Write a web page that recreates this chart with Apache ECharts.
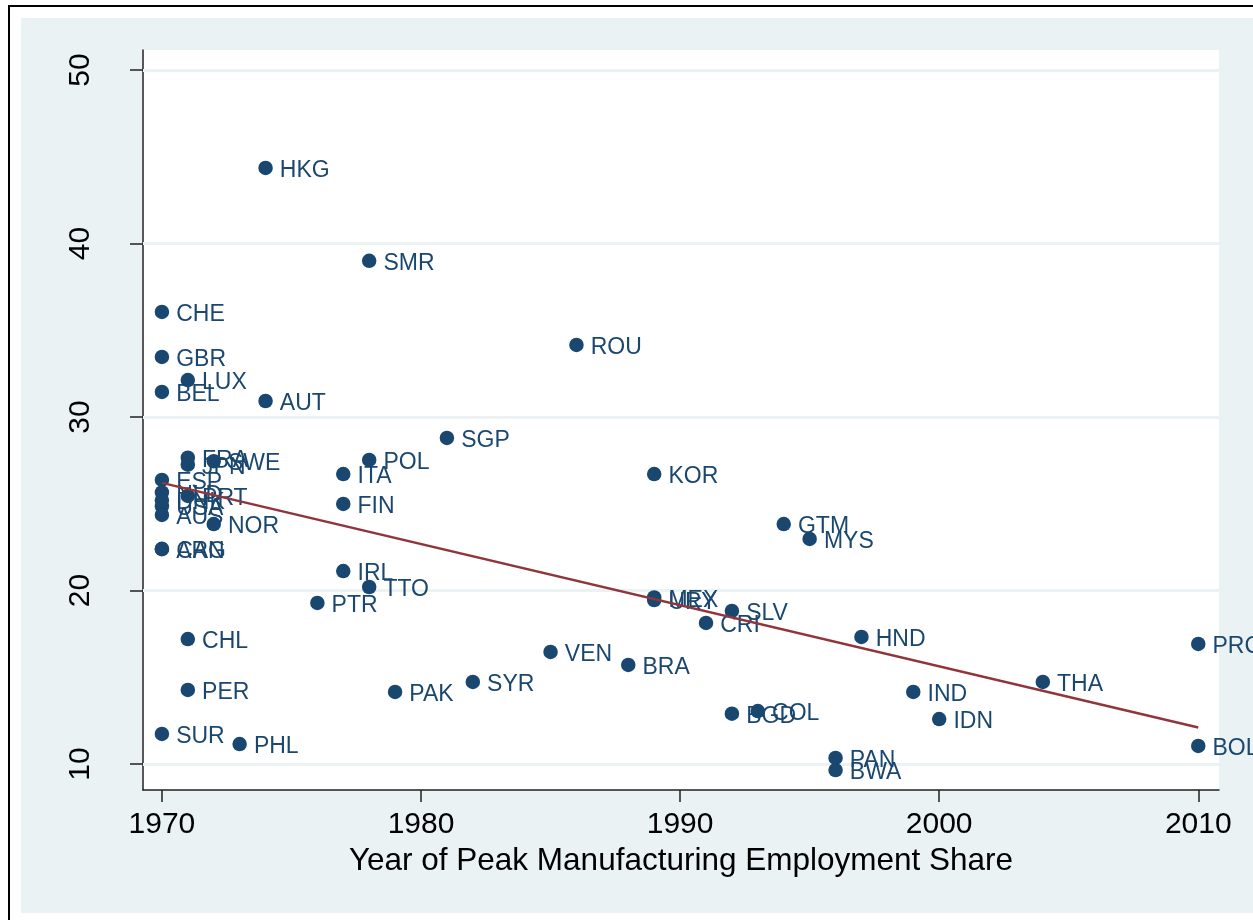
<!DOCTYPE html>
<html>
<head>
<meta charset="utf-8">
<script src="https://cdn.jsdelivr.net/npm/echarts@6/dist/echarts.min.js"></script>
<style>html,body{margin:0;padding:0;background:#fff;}#c{width:1253px;height:920px;}</style>
</head>
<body>
<div id="c"></div>
<script>
const countries = ['HKG','SMR','CHE','GBR','LUX','BEL','AUT','ROU','SGP','FRA','JPN','SWE','POL','ITA','KOR','ESP','NLD','PRT','DNK','USA','AUS','FIN','NOR','GTM','MYS','CAN','ARG','IRL','TTO','MEX','URY','PTR','SLV','CRI','HND','CHL','PRC','VEN','BRA','SYR','THA','PER','PAK','IND','COL','BGD','IDN','SUR','PHL','BOL','PAN','BWA'];
const peakYears = [1974,1978,1970,1970,1971,1970,1974,1986,1981,1971,1971,1972,1978,1977,1989,1970,1970,1971,1970,1970,1970,1977,1972,1994,1995,1970,1970,1977,1978,1989,1989,1976,1992,1991,1997,1971,2010,1985,1988,1982,2004,1971,1979,1999,1993,1992,2000,1970,1973,2010,1996,1996];
const peakShares = [44.35,39.0,36.05,33.46,32.13,31.44,30.92,34.15,28.79,27.65,27.25,27.45,27.52,26.71,26.71,26.37,25.65,25.45,25.2,24.85,24.35,24.99,23.83,23.83,22.97,22.4,22.38,21.12,20.2,19.6,19.45,19.28,18.82,18.13,17.32,17.2,16.92,16.46,15.71,14.73,14.73,14.27,14.15,14.15,13.05,12.9,12.59,11.73,11.15,11.04,10.35,9.65];
const fitYears = [1970, 2010];
const fitValues = [26.2, 12.1];
const xTicks = [1970, 1980, 1990, 2000, 2010];
const yTicks = [10, 20, 30, 40, 50];

const navy = '#1a476f';
const points = countries.map((c, i) => ({ name: c, value: [peakYears[i], peakShares[i]] }));
const fitLine = fitYears.map((x, i) => [x, fitValues[i]]);

const chart = echarts.init(document.getElementById('c'), null, { renderer: 'canvas' });
chart.setOption({
  animation: false,
  backgroundColor: '#ffffff',
  textStyle: { fontFamily: 'Liberation Sans, Arial, sans-serif' },
  graphic: [
    { type: 'rect', z: -20, shape: { x: 9, y: 6, width: 1300, height: 1000 }, style: { fill: '#ffffff', stroke: '#000000', lineWidth: 2 } },
    { type: 'rect', z: -19, shape: { x: 21, y: 18, width: 1300, height: 895 }, style: { fill: '#eaf2f3' } }
  ],
  grid: { left: 143, right: 34, top: 50, bottom: 130, show: true, backgroundColor: '#ffffff', borderWidth: 0, containLabel: false },
  xAxis: {
    type: 'value', min: 1969.27, max: 2010.8,
    name: 'Year of Peak Manufacturing Employment Share', nameLocation: 'middle', nameGap: 52,
    nameTextStyle: { fontSize: 31.5, color: '#000', fontFamily: 'Liberation Sans, Arial, sans-serif' },
    axisLine: { onZero: false, lineStyle: { color: '#222', width: 1.5 } },
    axisTick: { show: true, length: 12, lineStyle: { color: '#222', width: 1.5 }, customValues: xTicks },
    axisLabel: { fontSize: 30, color: '#000', margin: 20, customValues: xTicks, formatter: v => String(v) },
    splitLine: { show: false }
  },
  yAxis: {
    type: 'value', min: 8.5, max: 51.15,
    axisLine: { onZero: false, lineStyle: { color: '#222', width: 1.5 } },
    axisTick: { show: true, length: 13, lineStyle: { color: '#222', width: 1.5 }, customValues: yTicks },
    axisLabel: { fontSize: 30, color: '#000', margin: 47, rotate: 90, customValues: yTicks, formatter: v => String(v) },
    splitLine: { show: false }
  },
  series: [
    {
      type: 'scatter', data: [], z: 1, silent: true,
      markLine: {
        silent: true, symbol: 'none', animation: false, z: 1,
        label: { show: false },
        lineStyle: { color: '#eaf2f3', width: 3, type: 'solid' },
        data: yTicks.map(v => ({ yAxis: v }))
      }
    },
    {
      type: 'scatter', z: 3, data: points, symbol: 'circle', symbolSize: 14.5,
      itemStyle: { color: navy, opacity: 1 },
      label: { show: true, position: [21.5, 10], align: 'left', verticalAlign: 'middle', formatter: '{b}', color: navy, fontSize: 23, fontFamily: 'Liberation Sans, Arial, sans-serif' },
      labelLayout: { hideOverlap: false }
    },
    {
      type: 'line', z: 5, data: fitLine, showSymbol: false, symbol: 'none',
      lineStyle: { color: '#90353b', width: 2.5 }
    }
  ]
});
</script>
</body>
</html>
